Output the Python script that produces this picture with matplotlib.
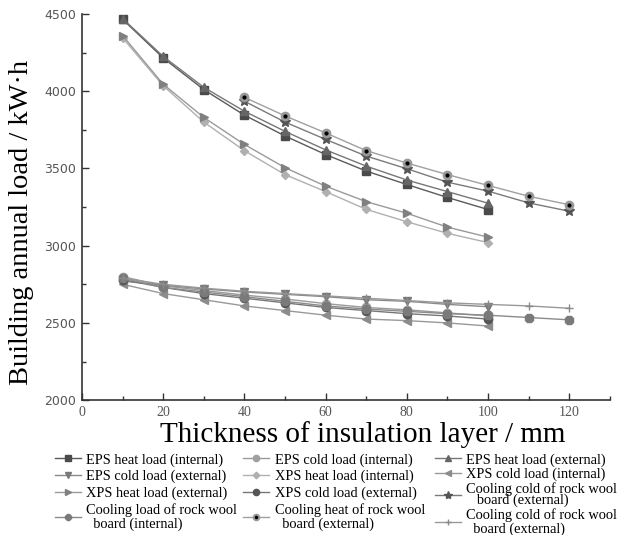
"""
building annual load vs insulation thickness, grayscale line chart
"""

import matplotlib

matplotlib.use("Agg")
import matplotlib.pyplot as plt
from matplotlib.legend_handler import HandlerTuple
from matplotlib.ticker import MultipleLocator

# %%
# data
thick_10_100 = [10, 20, 30, 40, 50, 60, 70, 80, 90, 100]
thick_40_120 = [40, 50, 60, 70, 80, 90, 100, 110, 120]
thick_10_120 = [10, 20, 30, 40, 50, 60, 70, 80, 90, 100, 110, 120]

eps_heat_int = [4465, 4215, 4010, 3845, 3710, 3590, 3483, 3396, 3312, 3234]
eps_cold_int = [2800, 2740, 2710, 2680, 2655, 2625, 2600, 2585, 2565, 2545]
eps_heat_ext = [4470, 4225, 4025, 3870, 3740, 3620, 3515, 3425, 3350, 3275]
eps_cold_ext = [2770, 2745, 2720, 2700, 2685, 2670, 2650, 2640, 2620, 2605]
xps_heat_int = [4345, 4035, 3800, 3615, 3460, 3350, 3235, 3155, 3080, 3020]
xps_cold_int = [2750, 2690, 2650, 2610, 2580, 2550, 2525, 2515, 2500, 2480]
xps_heat_ext = [4360, 4045, 3830, 3655, 3505, 3385, 3285, 3210, 3120, 3055]
xps_cold_ext = [2780, 2730, 2690, 2660, 2630, 2600, 2580, 2560, 2545, 2525]
rock_cold_ext_star = [3935, 3800, 3688, 3580, 3498, 3411, 3353, 3277, 3223]
rock_load_int = [2790, 2730, 2700, 2670, 2640, 2610, 2590, 2575, 2560, 2550, 2535, 2520]
rock_heat_ext = [3960, 3840, 3730, 3615, 3535, 3460, 3390, 3320, 3265]
rock_cold_ext_plus = [2790, 2750, 2725, 2705, 2690, 2675, 2660, 2645, 2630, 2620, 2610, 2595]

labels = [
    "EPS heat load (internal)",
    "EPS cold load (internal)",
    "EPS heat load (external)",
    "EPS cold load (external)",
    "XPS heat load (internal)",
    "XPS cold load (internal)",
    "XPS heat load (external)",
    "XPS cold load (external)",
    "Cooling cold of rock wool\n   board (external)",
    "Cooling load of rock wool\n  board (internal)",
    "Cooling heat of rock wool\n  board (external)",
    "Cooling cold of rock wool\n  board (external)",
]

# %%
SERIF = "Liberation Serif"
fig = plt.figure(figsize=(6.21, 5.35), dpi=100)
ax = fig.add_axes([0.132, 0.252, 0.85, 0.722])

series = [
    (thick_10_100, eps_heat_int, "s", "#4a4a4a", "#5a5a5a"),
    (thick_10_100, eps_cold_int, "o", "#a0a0a0", "#9a9a9a"),
    (thick_10_100, eps_heat_ext, "^", "#666666", "#777777"),
    (thick_10_100, eps_cold_ext, "v", "#7a7a7a", "#8a8a8a"),
    (thick_10_100, xps_heat_int, "D", "#b0b0b0", "#b0b0b0"),
    (thick_10_100, xps_cold_int, "<", "#8c8c8c", "#999999"),
    (thick_10_100, xps_heat_ext, ">", "#808080", "#9a9a9a"),
    (thick_10_100, xps_cold_ext, "o", "#555555", "#777777"),
    (thick_40_120, rock_cold_ext_star, "*", "#555555", "#7a7a7a"),
    (thick_10_120, rock_load_int, "8", "#7a7a7a", "#8a8a8a"),
    (thick_40_120, rock_heat_ext, "o", "#999999", "#a0a0a0"),
    (thick_10_120, rock_cold_ext_plus, "+", "#8a8a8a", "#999999"),
]

handles = []
for i, (x, y, mk, mc, lc) in enumerate(series):
    ms = 4.5 if mk == "D" else 6
    if mk == "*":
        ms = 8
    (h,) = ax.plot(x, y, color=lc, marker=mk, markerfacecolor=mc,
                   markeredgecolor=mc, lw=1.0, markersize=ms)
    if i == 10:
        # circle with a black dot in the middle
        (d,) = ax.plot(x, y, ls="none", marker="o", color="black", markersize=2)
        h = (h, d)
    handles.append(h)

ax.set_xlim(0, 130)
ax.set_ylim(2000, 4500)
ax.xaxis.set_major_locator(MultipleLocator(20))
ax.xaxis.set_minor_locator(MultipleLocator(10))
ax.yaxis.set_major_locator(MultipleLocator(500))
ax.yaxis.set_minor_locator(MultipleLocator(250))
ax.tick_params(which="both", direction="in", color="#333333")
ax.tick_params(which="major", length=5, width=1)
ax.tick_params(which="minor", length=3, width=1)
ax.tick_params(axis="y", labelsize=9, labelcolor="#555555", pad=4)
ax.tick_params(axis="x", labelsize=10, labelcolor="#555555", pad=4)
for t in ax.get_xticklabels():
    t.set_fontfamily(SERIF)
ax.spines["top"].set_visible(False)
ax.spines["right"].set_visible(False)
for s in ["left", "bottom"]:
    ax.spines[s].set_color("#333333")
    ax.spines[s].set_linewidth(1.2)

ax.set_ylabel("Building annual load / kW·h", fontfamily=SERIF, fontsize=20.5)
ax.yaxis.set_label_coords(-0.114, 0.46)
ax.set_xlabel("Thickness of insulation layer / mm", fontfamily=SERIF, fontsize=21)
ax.xaxis.set_label_coords(0.532, -0.09)
ax.xaxis.label.set_va("center")
ax.yaxis.label.set_va("center")

# one legend per column, the picture reads the entries row by row
col_x = [0.088, 0.392, 0.700]
col_spacing = [0.22, 0.22, 0.08]
for c in range(3):
    idx = [c, c + 3, c + 6, c + 9]
    leg = fig.legend(
        [handles[i] for i in idx],
        [labels[i] for i in idx],
        handler_map={tuple: HandlerTuple(ndivide=1, pad=0)},
        loc="upper left",
        bbox_to_anchor=(col_x[c], 0.153),
        frameon=False,
        prop={"family": SERIF, "size": 10.4},
        markerscale=0.75,
        handlelength=1.8,
        handletextpad=0.37,
        labelspacing=col_spacing[c],
        borderaxespad=0,
        borderpad=0,
    )
    for t in leg.get_texts():
        if "\n" in t.get_text():
            t.set_linespacing(1.05)
    if c == 2:
        # the squeezed entry in the third column
        leg.get_texts()[2].set_linespacing(0.75)

fig.savefig("out.png", dpi=100)
